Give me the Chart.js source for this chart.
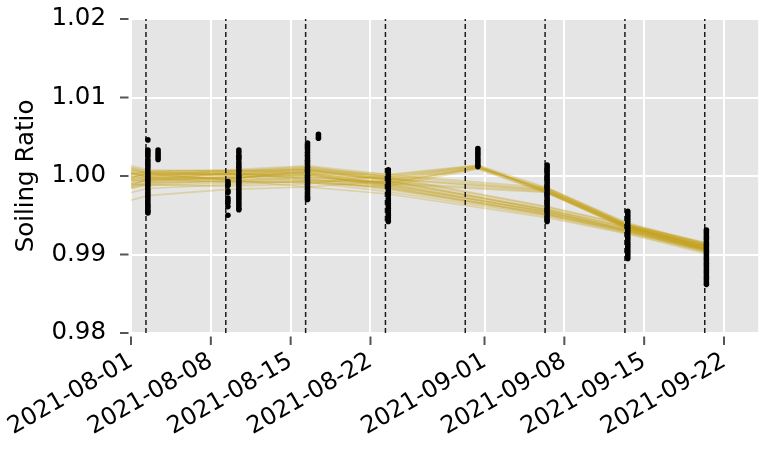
<!DOCTYPE html>
<html>
<head>
<meta charset="utf-8">
<script src="https://cdn.jsdelivr.net/npm/chart.js@4.4.1/dist/chart.umd.min.js"></script>
<style>
  html, body { margin: 0; padding: 0; background: #ffffff; }
  #wrap { width: 761px; height: 450px; }
</style>
</head>
<body>
<div id="wrap"><canvas id="chart" width="761" height="450"></canvas></div>
<script>
// ---- data -------------------------------------------------------------
const xTickDates = ['2021-08-01', '2021-08-08', '2021-08-15', '2021-08-22',
                    '2021-09-01', '2021-09-08', '2021-09-15', '2021-09-22'];
const yTickValues = [0.98, 0.99, 1.00, 1.01, 1.02];
const xStart = '2021-08-01T00:00:00';
const xEnd = '2021-09-25T00:00:00';

// detected cleaning events
const cleaningTimes = ['2021-08-02T07:30:00', '2021-08-09T07:30:00', '2021-08-16T07:30:00',
                       '2021-08-23T07:30:00', '2021-08-30T07:30:00', '2021-09-06T07:30:00',
                       '2021-09-13T07:30:00', '2021-09-20T07:30:00'];

// measured soiling ratio, grouped by measurement time
const pointTimes = ['2021-08-02T11:30:00', '2021-08-03T09:00:00', '2021-08-09T12:00:00',
                    '2021-08-10T11:00:00', '2021-08-16T11:30:00', '2021-08-17T10:30:00',
                    '2021-08-23T13:30:00', '2021-08-31T10:00:00', '2021-09-06T11:45:00',
                    '2021-09-13T13:30:00', '2021-09-20T11:00:00'];
const pointValues = [
  [1.0046, 1.0033, 1.0031, 1.0028, 1.0025, 1.0021, 1.0018, 1.0015, 1.0012, 1.0009, 1.0005, 1.0002,
   0.9999, 0.9996, 0.9993, 0.9990, 0.9987, 0.9983, 0.9980, 0.9977, 0.9974, 0.9971, 0.9968,
   0.9965, 0.9962, 0.9960, 0.9957, 0.9955, 0.9953],
  [1.0033, 1.0030, 1.0027, 1.0024, 1.0021],
  [0.9993, 0.9990, 0.9988, 0.9981, 0.9979, 0.9972, 0.9969, 0.9966, 0.9961, 0.9950],
  [1.0033, 1.0030, 1.0026, 1.0024, 1.0021, 1.0017, 1.0014, 1.0011, 1.0008, 1.0005, 1.0001,
   0.9998, 0.9995, 0.9992, 0.9989, 0.9986, 0.9983, 0.9980, 0.9977, 0.9974, 0.9971, 0.9968,
   0.9965, 0.9962, 0.9959, 0.9957],
  [1.0042, 1.0039, 1.0036, 1.0033, 1.0030, 1.0026, 1.0023, 1.0020, 1.0017, 1.0014, 1.0011,
   1.0008, 1.0005, 1.0001, 0.9998, 0.9995, 0.9992, 0.9989, 0.9986, 0.9983, 0.9980, 0.9977,
   0.9974, 0.9972, 0.9970],
  [1.0053, 1.0050, 1.0048],
  [1.0008, 1.0005, 1.0002, 0.9999, 0.9996, 0.9993, 0.9990, 0.9987, 0.9984, 0.9981, 0.9978,
   0.9975, 0.9971, 0.9968, 0.9965, 0.9962, 0.9959, 0.9956, 0.9953, 0.9950, 0.9947, 0.9944, 0.9942],
  [1.0035, 1.0032, 1.0029, 1.0026, 1.0023, 1.0020, 1.0017, 1.0014, 1.0012],
  [1.0014, 1.0011, 1.0008, 1.0005, 1.0002, 0.9999, 0.9996, 0.9993, 0.9990, 0.9987, 0.9984,
   0.9981, 0.9978, 0.9975, 0.9972, 0.9969, 0.9966, 0.9963, 0.9960, 0.9957, 0.9954, 0.9951,
   0.9948, 0.9945, 0.9942],
  [0.9955, 0.9952, 0.9949, 0.9946, 0.9943, 0.9940, 0.9937, 0.9934, 0.9931, 0.9928, 0.9925,
   0.9922, 0.9919, 0.9916, 0.9913, 0.9910, 0.9907, 0.9904, 0.9901, 0.9898, 0.9895],
  [0.9931, 0.9928, 0.9925, 0.9922, 0.9919, 0.9916, 0.9913, 0.9910, 0.9907, 0.9904, 0.9901,
   0.9898, 0.9895, 0.9892, 0.9889, 0.9886, 0.9883, 0.9880, 0.9877, 0.9874, 0.9871, 0.9868,
   0.9865, 0.9862]
];

// Monte Carlo soiling profiles; two sets of breakpoint times
const profileTimesLong = ['2021-08-01T00:00:00', '2021-08-02T11:30:00', '2021-08-09T12:00:00',
                          '2021-08-16T11:30:00', '2021-08-23T13:30:00', '2021-08-31T10:00:00',
                          '2021-09-06T11:45:00', '2021-09-13T13:30:00', '2021-09-20T11:00:00'];
const profileTimesShort = ['2021-08-01T00:00:00', '2021-08-02T11:30:00', '2021-08-09T12:00:00',
                           '2021-08-16T11:30:00', '2021-08-23T13:30:00',
                           '2021-09-06T11:45:00', '2021-09-13T13:30:00', '2021-09-20T11:00:00'];

const profilesShort = [
  [0.9994, 0.9996, 0.9998, 1.0002, 0.9988, 0.9955, 0.9932, 0.9908],
  [1.0001, 0.9999, 1.0003, 0.9996, 0.9984, 0.9952, 0.9929, 0.9905],
  [1.0007, 1.0004, 1.0006, 1.0008, 0.9993, 0.9958, 0.9935, 0.9911],
  [0.9988, 0.9991, 0.9993, 0.9992, 0.9980, 0.9949, 0.9927, 0.9903],
  [1.0011, 1.0006, 1.0002, 1.0010, 0.9997, 0.9960, 0.9937, 0.9914],
  [0.9985, 0.9990, 0.9994, 1.0000, 0.9989, 0.9954, 0.9930, 0.9906],
  [0.9998, 1.0003, 0.9995, 0.9986, 0.9977, 0.9947, 0.9926, 0.9901],
  [1.0004, 1.0000, 1.0007, 1.0004, 0.9991, 0.9957, 0.9934, 0.9909],
  [0.9969, 0.9975, 0.9983, 0.9986, 0.9994, 0.9956, 0.9931, 0.9906],
  [0.9995, 0.9993, 0.9997, 1.0003, 0.9986, 0.9951, 0.9930, 0.9904],
  [1.0013, 1.0008, 1.0006, 1.0012, 0.9999, 0.9961, 0.9938, 0.9915],
  [0.9990, 0.9988, 0.9991, 0.9994, 0.9983, 0.9950, 0.9928, 0.9905],
  [0.9997, 1.0004, 1.0001, 0.9999, 0.9990, 0.9954, 0.9932, 0.9908],
  [0.9979, 0.9984, 0.9989, 0.9993, 0.9985, 0.9951, 0.9929, 0.9903],
  [1.0005, 0.9998, 0.9996, 1.0006, 0.9995, 0.9957, 0.9934, 0.9911],
  [1.0000, 0.9995, 1.0004, 0.9997, 0.9987, 0.9953, 0.9931, 0.9907],
  [0.9996, 0.9999, 1.0002, 1.0004, 0.9996, 0.9981, 0.9935, 0.9909],
  [1.0006, 1.0002, 0.9996, 1.0007, 1.0000, 0.9983, 0.9937, 0.9911],
  [0.9991, 0.9994, 0.9999, 0.9995, 0.9990, 0.9979, 0.9933, 0.9906],
  [1.0002, 1.0006, 1.0007, 1.0009, 1.0002, 0.9985, 0.9938, 0.9912],
  [0.9987, 0.9997, 0.9992, 0.9998, 0.9992, 0.9980, 0.9934, 0.9907],
  [1.0009, 1.0003, 1.0003, 1.0001, 0.9997, 0.9982, 0.9936, 0.9910]
];
const profilesLong = [
  [0.9996, 0.9998, 1.0001, 1.0004, 0.9990, 1.0011, 0.9981, 0.9936, 0.9909],
  [1.0003, 1.0002, 1.0004, 1.0008, 0.9996, 1.0012, 0.9979, 0.9934, 0.9907],
  [0.9990, 0.9994, 0.9996, 0.9994, 0.9993, 1.0010, 0.9983, 0.9938, 0.9912],
  [1.0008, 1.0004, 1.0005, 1.0011, 0.9999, 1.0013, 0.9980, 0.9935, 0.9910],
  [0.9986, 0.9992, 0.9994, 0.9991, 0.9987, 1.0009, 0.9978, 0.9933, 0.9906],
  [0.9999, 1.0001, 1.0003, 1.0006, 0.9998, 1.0012, 0.9982, 0.9937, 0.9911],
  [1.0003, 0.9998, 0.9999, 1.0009, 0.9995, 1.0011, 0.9984, 0.9939, 0.9913],
  [0.9993, 0.9996, 0.9998, 1.0001, 0.9991, 1.0010, 0.9979, 0.9932, 0.9905],
  [0.9984, 0.9989, 0.9987, 0.9990, 1.0001, 1.0013, 0.9981, 0.9936, 0.9908],
  [1.0010, 1.0006, 1.0008, 1.0013, 1.0002, 1.0014, 0.9985, 0.9940, 0.9914]
];

// ---- helpers ----------------------------------------------------------
const DAY_MS = 86400000;
const T0 = Date.parse(xStart + 'Z');
const toDay = s => (Date.parse(s + 'Z') - T0) / DAY_MS;

const FONT = "'DejaVu Sans', sans-serif";
const plotLeft = 131, plotTop = 19, plotBottom = 333;

const datasets = [];

// measured points (drawn on top)
const pts = [];
pointTimes.forEach((t, i) => {
  pointValues[i].forEach(v => pts.push({ x: toDay(t), y: v }));
});
datasets.push({
  data: pts, showLine: false, pointRadius: 2.8, pointHoverRadius: 0,
  pointBackgroundColor: '#000000', pointBorderWidth: 0, borderColor: '#000000'
});

// cleaning events as dashed verticals
cleaningTimes.forEach(t => {
  datasets.push({
    data: [{ x: toDay(t), y: yTickValues[0] }, { x: toDay(t), y: yTickValues[yTickValues.length - 1] }],
    showLine: true, pointRadius: 0, borderColor: '#1a1a1a', borderWidth: 1.5,
    borderDash: [5, 3]
  });
});

// profiles
const profileStyle = { showLine: true, pointRadius: 0, borderColor: 'rgba(196,158,20,0.3)', borderWidth: 1.6 };
profilesShort.forEach(vals => datasets.push(Object.assign({
  data: vals.map((v, i) => ({ x: toDay(profileTimesShort[i]), y: v }))
}, profileStyle)));
profilesLong.forEach(vals => datasets.push(Object.assign({
  data: vals.map((v, i) => ({ x: toDay(profileTimesLong[i]), y: v }))
}, profileStyle)));

// panel background + outward tick marks with a small gap
const panelPlugin = {
  id: 'panel',
  beforeDraw(chart) {
    const { ctx, chartArea: a } = chart;
    ctx.save();
    ctx.fillStyle = '#e5e5e5';
    ctx.fillRect(a.left, a.top, a.right - a.left, a.bottom - a.top);
    ctx.restore();
  },
  afterDraw(chart) {
    const { ctx, chartArea: a, scales } = chart;
    ctx.save();
    ctx.strokeStyle = '#555555';
    ctx.lineWidth = 2;
    ctx.beginPath();
    scales.y.ticks.forEach(t => {
      const py = scales.y.getPixelForValue(t.value);
      ctx.moveTo(a.left - 11, py); ctx.lineTo(a.left - 2.5, py);
    });
    scales.x.ticks.forEach(t => {
      const px = scales.x.getPixelForValue(t.value);
      ctx.moveTo(px, a.bottom + 3.5); ctx.lineTo(px, a.bottom + 12);
    });
    ctx.stroke();
    ctx.restore();
  }
};

new Chart(document.getElementById('chart'), {
  type: 'scatter',
  data: { datasets },
  plugins: [panelPlugin],
  options: {
    responsive: false,
    animation: false,
    events: [],
    layout: { padding: { top: plotTop, right: 0, left: 0, bottom: 0 } },
    plugins: { legend: { display: false }, tooltip: { enabled: false } },
    scales: {
      x: {
        type: 'linear',
        min: 0,
        max: toDay(xEnd),
        afterBuildTicks: s => { s.ticks = xTickDates.map(d => ({ value: toDay(d + 'T00:00:00') })); },
        afterFit: s => { s.height = 450 - plotBottom; s.paddingLeft = 0; s.paddingRight = 0; },
        grid: { color: '#ffffff', lineWidth: 2, drawTicks: false },
        border: { display: false },
        ticks: {
          minRotation: 30, maxRotation: 30, padding: 14, autoSkip: false,
          color: '#000000', font: { family: FONT, size: 24 },
          callback: (v, i) => xTickDates[i]
        }
      },
      y: {
        min: yTickValues[0],
        max: yTickValues[yTickValues.length - 1],
        afterBuildTicks: s => { s.ticks = yTickValues.map(v => ({ value: v })); },
        afterFit: s => { s.width = plotLeft; s.paddingTop = 0; s.paddingBottom = 0; },
        grid: { color: '#ffffff', lineWidth: 2, drawTicks: false },
        border: { display: false },
        ticks: {
          padding: 25, color: '#000000', font: { family: FONT, size: 24.5 },
          callback: v => v.toFixed(2)
        },
        title: {
          display: true, text: 'Soiling Ratio', color: '#000000',
          font: { family: FONT, size: 24.5 }, padding: { top: 12, bottom: 0 }
        }
      }
    }
  }
});
</script>
</body>
</html>
